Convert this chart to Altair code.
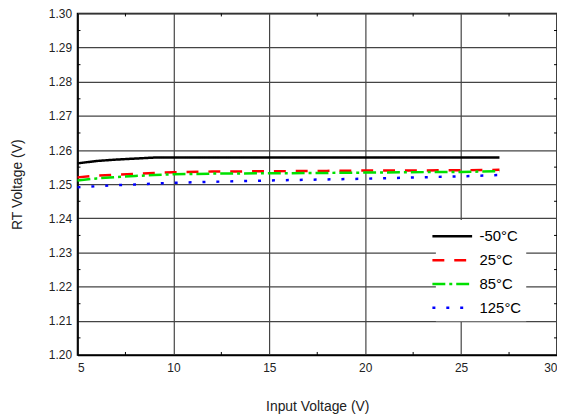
import altair as alt
import pandas as pd

x_vals = [5, 6, 7, 8, 9, 10, 12, 15, 18, 20, 22, 25, 27]
t_m50 = [1.2561, 1.2568, 1.2572, 1.2575, 1.2578, 1.2578, 1.2578, 1.2578, 1.2578, 1.2578, 1.2578, 1.2578, 1.2578]
t_25 = [1.2520, 1.2525, 1.2528, 1.2530, 1.2533, 1.2535, 1.2537, 1.2538, 1.2539, 1.2540, 1.2540, 1.2541, 1.2542]
t_85 = [1.2511, 1.2517, 1.2521, 1.2524, 1.2527, 1.2529, 1.2531, 1.2532, 1.2533, 1.2534, 1.2535, 1.2536, 1.2538]
t_125 = [1.2491, 1.2494, 1.2497, 1.2499, 1.2502, 1.2504, 1.2507, 1.2511, 1.2514, 1.2516, 1.2519, 1.2523, 1.2527]
series_names = ["-50°C", "25°C", "85°C", "125°C"]
series_colors = ["#000000", "#ff0000", "#00e000", "#0000ff"]
series_dash = [[1, 0], [12, 10], [13, 4, 3, 4], [3, 11]]

x_ticks = [5, 10, 15, 20, 25, 30]
y_ticks = [1.20, 1.21, 1.22, 1.23, 1.24, 1.25, 1.26, 1.27, 1.28, 1.29, 1.30]
x_minor = [7.5, 12.5, 17.5, 22.5, 27.5]
y_minor = [1.205, 1.215, 1.225, 1.235, 1.245, 1.255, 1.265, 1.275, 1.285, 1.295]

W, H = 483, 344

rows = []
for name, ys in zip(series_names, [t_m50, t_25, t_85, t_125]):
    for xv, yv in zip(x_vals, ys):
        rows.append({"x": xv, "y": yv, "s": name})
df = pd.DataFrame(rows)

xs = alt.Scale(domain=[5, 30], nice=False)
ys_ = alt.Scale(domain=[1.20, 1.30], nice=False, zero=False)
x_axis = alt.Axis(values=x_ticks, title="Input Voltage (V)", grid=True,
                  gridColor="#444444", gridWidth=1.2, ticks=False, labelOverlap=False,
                  labelPadding=8, titlePadding=26)
y_axis = alt.Axis(values=y_ticks, format=".2f", title="RT Voltage (V)", grid=True,
                  gridColor="#444444", gridWidth=1.2, ticks=False, labelOverlap=False,
                  labelPadding=6, titlePadding=24)

lines = alt.Chart(df).mark_line(strokeWidth=2.5).encode(
    x=alt.X("x:Q", scale=xs, axis=x_axis),
    y=alt.Y("y:Q", scale=ys_, axis=y_axis),
    color=alt.Color("s:N", scale=alt.Scale(domain=series_names, range=series_colors),
                    legend=alt.Legend(title=None, orient="none", legendX=361, legendY=208,
                                      fillColor="white", padding=5, symbolType="M-2,0L2,0",
                                      symbolSize=400, symbolStrokeWidth=2.5,
                                      labelFontSize=15, labelFont="Liberation Sans",
                                      labelColor="black", rowPadding=4, labelOffset=16,
                                      offset=0)),
    strokeDash=alt.StrokeDash("s:N", scale=alt.Scale(domain=series_names, range=series_dash),
                              legend=None),
)

xminor_df = pd.DataFrame({"v": x_minor})
yminor_df = pd.DataFrame({"v": y_minor})
tick_style = dict(color="black", strokeWidth=1)
xb = alt.Chart(xminor_df).mark_rule(**tick_style).encode(
    x=alt.X("v:Q", scale=xs, axis=x_axis), y=alt.value(H), y2=alt.value(H - 3))
xt = alt.Chart(xminor_df).mark_rule(**tick_style).encode(
    x=alt.X("v:Q", scale=xs, axis=x_axis), y=alt.value(0), y2=alt.value(3))
yl = alt.Chart(yminor_df).mark_rule(**tick_style).encode(
    y=alt.Y("v:Q", scale=ys_, axis=y_axis), x=alt.value(0), x2=alt.value(3))
yr = alt.Chart(yminor_df).mark_rule(**tick_style).encode(
    y=alt.Y("v:Q", scale=ys_, axis=y_axis), x=alt.value(W), x2=alt.value(W - 3))

chart = alt.layer(lines, xb, xt, yl, yr).properties(
    width=W, height=H,
    autosize=alt.AutoSizeParams(type="none"),
    padding={"left": 70, "top": 4, "right": 0, "bottom": 60},
).configure_view(stroke="black", strokeWidth=1.5).configure_axis(
    labelFont="Liberation Sans", labelFontSize=12, labelColor="#222222",
    titleFont="Liberation Sans", titleFontSize=14, titleFontWeight="normal", titleColor="#222222",
    domainColor="black", domainWidth=1.5,
)

chart.save("out.html", embed_options={"renderer": "svg", "actions": False})
